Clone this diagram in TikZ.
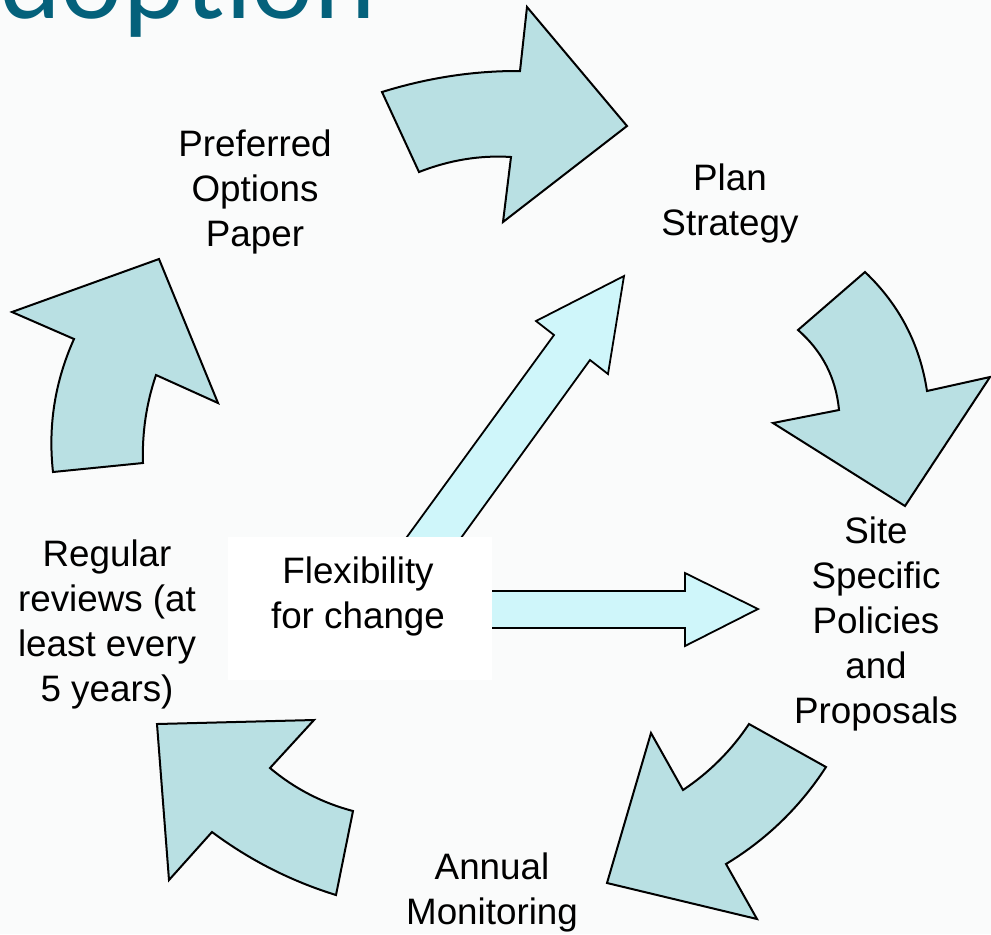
\documentclass[tikz,border=0pt]{standalone}
\usepackage{fontspec}
\setmainfont{Liberation Sans}
\newfontfamily\titlefont{Lato}

\definecolor{bgcol}{RGB}{250,251,251}
\definecolor{curvefill}{RGB}{185,224,227}
\definecolor{straightfill}{RGB}{207,246,250}
\definecolor{titleteal}{RGB}{4,97,123}

\tikzset{
	curvedarrow/.style={draw=black, fill=curvefill, line width=1pt},
	straightarrow/.style={draw=black, fill=straightfill, line width=0.9pt},
	stagetext/.style={align=center, inner sep=0pt, font=\fontsize{18.4}{22.5}\selectfont},
}

\begin{document}
\begin{tikzpicture}[x=0.5pt, y=-0.5pt]
	\useasboundingbox (0,0) rectangle (991,934);
	\clip (0,0) rectangle (991,934);
	\fill[bgcol] (0,0) rectangle (991,934);
	
	% Draw title
	\node[anchor=base east, inner sep=0pt, text=titleteal, font=\titlefont\fontsize{55}{60}\selectfont] (title) at (376,18) {Adoption};
	
	% Draw curved arrows
	\draw[curvedarrow] (382,92) .. controls (428,77.7) and (474,70.7) .. (520,71) -- (527,7) -- (627,126) -- (503,222) -- (511,157) .. controls (480.3,155) and (449.7,160) .. (419,172) -- cycle;
	\draw[curvedarrow] (865,272) -- (798,330) .. controls (822.3,351.2) and (836,377.9) .. (839,410) -- (773,423) -- (905,506) -- (990,377) -- (927,391) .. controls (919.9,344.3) and (899.3,304.6) .. (865,272) -- cycle;
	\draw[curvedarrow] (749,724) -- (826,767) .. controls (800.1,806.9) and (766.8,839.3) .. (726,864) -- (757,919) -- (607,883) -- (651,733) -- (683,790) .. controls (709.4,772.4) and (731.4,750.4) .. (749,724) -- cycle;
	\draw[curvedarrow] (157,724) -- (314,720) -- (270,768) .. controls (294.5,788.6) and (322.1,802.9) .. (353,811) -- (336,895) .. controls (291,881.1) and (249.7,860.1) .. (212,832) -- (169,880) -- cycle;
	\draw[curvedarrow] (53,472) -- (143,463) .. controls (142,432.9) and (146.3,403.6) .. (156,375) -- (218,403) -- (159,259) -- (12,312) -- (74,339) .. controls (54.9,381.5) and (47.9,425.8) .. (53,472) -- cycle;
	
	% Draw straight arrows
	\draw[straightarrow] (361,600) -- (554,335) -- (536,321) -- (624,276) -- (608,374) -- (590,360) -- (416,600) -- cycle;
	\draw[straightarrow] (470,591) -- (685,591) -- (685,573) -- (758,609) -- (685,646) -- (685,628) -- (470,628) -- cycle;
	
	% Draw centre box
	\fill[white] (228,537) rectangle (492,680);
	
	% Draw text
	\node[stagetext] (flex) at (358,596) {Flexibility\\for change};
	\node[stagetext] (pref) at (255,192) {Preferred\\Options\\Paper};
	\node[stagetext] (plan) at (730,203) {Plan\\Strategy};
	\node[stagetext] (site) at (876,624) {Site\\Specific\\Policies\\and\\Proposals};
	\node[stagetext] (annual) at (492,892) {Annual\\Monitoring};
	\node[stagetext] (regular) at (107,624) {Regular\\reviews (at\\least every\\5 years)};
\end{tikzpicture}
\end{document}
